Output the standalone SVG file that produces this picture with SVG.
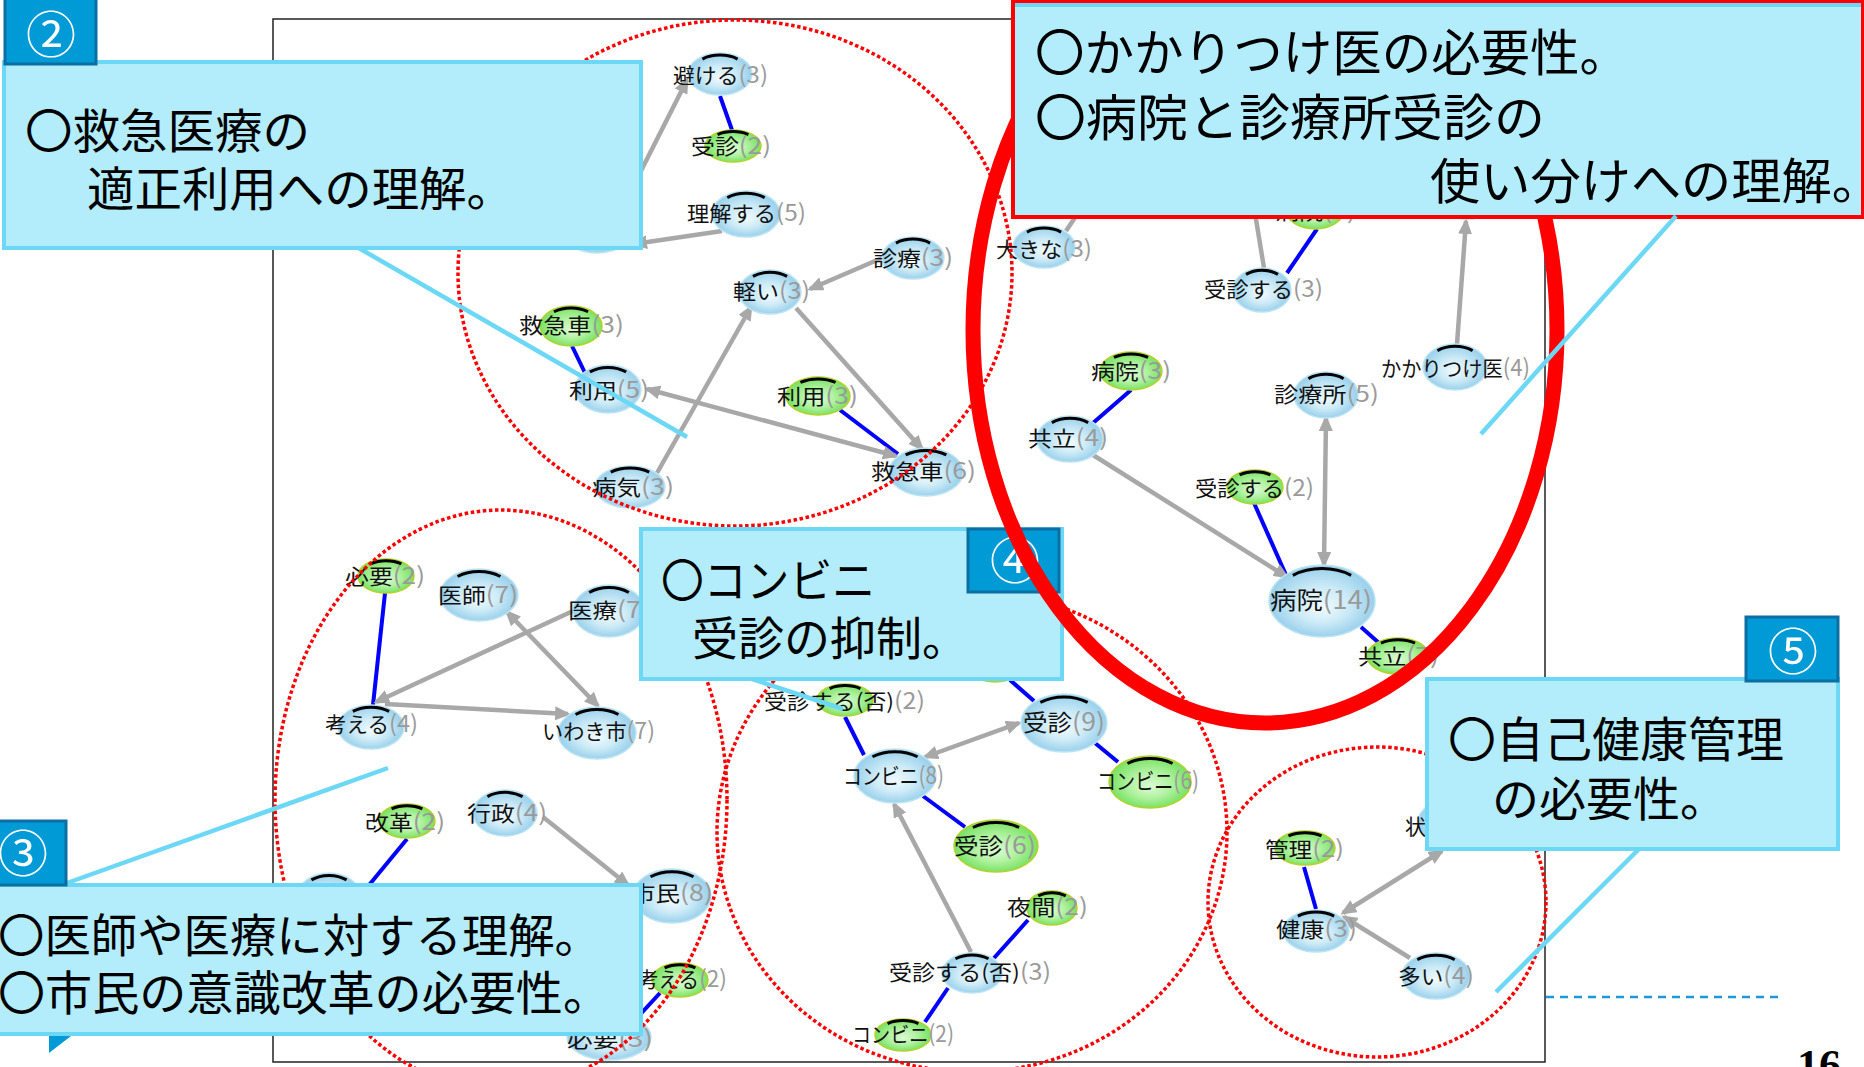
<svg xmlns="http://www.w3.org/2000/svg" xmlns:xlink="http://www.w3.org/1999/xlink" width="1864" height="1067" viewBox="0 0 1864 1067">
<style>
.nb{fill:url(#gb);stroke:#bde4f3;stroke-width:1.5}
.ng{fill:url(#gg);stroke:#b5d22c;stroke-width:1.5}
.lb{font-family:"Noto Sans CJK JP",sans-serif;font-size:21px;fill:#111;text-anchor:middle}
.n{fill:#9a9a9a;font-size:23px}
.be{stroke:#0000ff;stroke-width:4;fill:none}
.ge{stroke:#a8a8a8;stroke-width:4.5;fill:none}
.ar{marker-end:url(#ah)}
.ar2{marker-start:url(#ah);marker-end:url(#ah)}
.cl{stroke:#6dd8f5;stroke-width:4.5;fill:none}
.dc{fill:none;stroke:#ff0000;stroke-width:3.5;stroke-dasharray:3.5 2.6}
.box{fill:#b3ecfa;stroke:#6dd8f5;stroke-width:4}
.badge{fill:#009ad6;stroke:#0b6fa3;stroke-width:3}
.bt{font-family:"Noto Sans CJK JP",sans-serif;fill:#000}
.cn{font-family:"Noto Sans CJK JP",sans-serif;fill:#fff;text-anchor:middle;font-size:50px}
</style>
<defs>
<radialGradient id="gb" cx="0.5" cy="0.5" r="0.55" fx="0.5" fy="0.6">
<stop offset="0" stop-color="#f1fafe"/><stop offset="0.45" stop-color="#cdebf7"/><stop offset="0.85" stop-color="#9fd3ed"/><stop offset="1" stop-color="#8cc8e6"/>
</radialGradient>
<radialGradient id="gg" cx="0.5" cy="0.5" r="0.55" fx="0.5" fy="0.6">
<stop offset="0" stop-color="#dbfbd2"/><stop offset="0.45" stop-color="#b2f2a2"/><stop offset="0.85" stop-color="#7fe46a"/><stop offset="1" stop-color="#6bdc55"/>
</radialGradient>
<path id="cap" d="M-0.55,-0.712 A0.9,0.9 0 0 1 0.55,-0.712" fill="none" stroke="#000" stroke-width="3" vector-effect="non-scaling-stroke"/>
<marker id="ah" viewBox="0 0 16 14" refX="13" refY="7" markerWidth="16" markerHeight="14" markerUnits="userSpaceOnUse" orient="auto-start-reverse">
<path d="M0,0 L16,7 L0,14 z" fill="#a8a8a8"/>
</marker>
</defs>
<rect width="1864" height="1067" fill="#fff"/>
<rect id="frame" x="273" y="19" width="1272" height="1043" fill="none" stroke="#222" stroke-width="1.5"/>

<g id="connectors">
<path class="be" d="M720,96 L732,130"/>
<path class="be" d="M572,346 L585,373"/>
<path class="be" d="M840,410 L898,454"/>
<path class="be" d="M1287,273 L1317,229"/>
<path class="be" d="M1093,423 L1131,390"/>
<path class="be" d="M1254,503 L1286,575"/>
<path class="be" d="M1361,627 L1379,643"/>
<path class="be" d="M845,717 L864,755"/>
<path class="be" d="M1010,680 L1034,701"/>
<path class="be" d="M1095,743 L1118,762"/>
<path class="be" d="M923,796 L965,827"/>
<path class="be" d="M994,958 L1028,920"/>
<path class="be" d="M948,988 L925,1022"/>
<path class="be" d="M385,593 L373,705"/>
<path class="be" d="M407,839 L365,890"/>
<path class="be" d="M660,993 L635,1020"/>
<path class="be" d="M1304,867 L1316,909"/>
<path class="ge ar" d="M610,232 L687,80"/>
<path class="ge ar" d="M722,231 L634,244"/>
<path class="ge ar" d="M882,258 L810,289"/>
<path class="ge ar" d="M657,473 L751,307"/>
<path class="ge ar" d="M796,308 L922,449"/>
<path class="ge ar" d="M1457,344 L1466,221"/>
<path class="ge ar" d="M1093,455 L1287,577"/>
<path class="ge ar" d="M971,952 L894,804"/>
<path class="ge ar" d="M573,611 L376,702"/>
<path class="ge ar" d="M385,704 L568,714"/>
<path class="ge ar" d="M543,817 L628,885"/>
<path class="ge ar" d="M1410,958 L1344,917"/>
<path class="ge ar2" d="M647,389 L896,456"/>
<path class="ge ar2" d="M1326,418 L1324,565"/>
<path class="ge ar2" d="M925,757 L1019,723"/>
<path class="ge ar2" d="M507,612 L598,706"/>
<path class="ge ar2" d="M1343,913 L1442,851"/>
<path class="ge" d="M1066,231 L1090,195"/>
<path class="ge" d="M1264,268 L1252,195"/>
</g>

<g id="nodes">
<g id="n01"><ellipse class="nb" cx="720" cy="74" rx="32" ry="21"/><use href="#cap" transform="translate(720,74) scale(32,21)"/><text class="lb" x="720.5" y="83" textLength="95" lengthAdjust="spacingAndGlyphs">避ける<tspan class="n">(3)</tspan></text></g>
<g id="n02"><ellipse class="ng" cx="733" cy="146" rx="28" ry="16"/><use href="#cap" transform="translate(733,146) scale(28,16)"/><text class="lb" x="731" y="154" textLength="80" lengthAdjust="spacingAndGlyphs">受診<tspan class="n">(2)</tspan></text></g>
<g id="n03"><ellipse class="nb" cx="746" cy="214" rx="34" ry="23"/><use href="#cap" transform="translate(746,214) scale(34,23)"/><text class="lb" x="746.5" y="221" textLength="119" lengthAdjust="spacingAndGlyphs">理解する<tspan class="n">(5)</tspan></text></g>
<g id="n04"><ellipse class="nb" cx="913" cy="258" rx="31" ry="21"/><use href="#cap" transform="translate(913,258) scale(31,21)"/><text class="lb" x="913" y="266" textLength="80" lengthAdjust="spacingAndGlyphs">診療<tspan class="n">(3)</tspan></text></g>
<g id="n05"><ellipse class="nb" cx="770" cy="292" rx="31" ry="22"/><use href="#cap" transform="translate(770,292) scale(31,22)"/><text class="lb" x="771.5" y="299" textLength="77" lengthAdjust="spacingAndGlyphs">軽い<tspan class="n">(3)</tspan></text></g>
<g id="n06"><ellipse class="ng" cx="571" cy="326" rx="31" ry="20"/><use href="#cap" transform="translate(571,326) scale(31,20)"/><text class="lb" x="571.5" y="333" textLength="105" lengthAdjust="spacingAndGlyphs">救急車<tspan class="n">(3)</tspan></text></g>
<g id="n07"><ellipse class="nb" cx="608" cy="389" rx="33" ry="24"/><use href="#cap" transform="translate(608,389) scale(33,24)"/><text class="lb" x="609" y="398" textLength="80" lengthAdjust="spacingAndGlyphs">利用<tspan class="n">(5)</tspan></text></g>
<g id="n08"><ellipse class="ng" cx="818" cy="396" rx="32" ry="19"/><use href="#cap" transform="translate(818,396) scale(32,19)"/><text class="lb" x="817.5" y="404" textLength="81" lengthAdjust="spacingAndGlyphs">利用<tspan class="n">(3)</tspan></text></g>
<g id="n09"><ellipse class="nb" cx="926" cy="472" rx="37" ry="24"/><use href="#cap" transform="translate(926,472) scale(37,24)"/><text class="lb" x="923.5" y="479" textLength="105" lengthAdjust="spacingAndGlyphs">救急車<tspan class="n">(6)</tspan></text></g>
<g id="n10"><ellipse class="nb" cx="630" cy="487" rx="35" ry="21"/><use href="#cap" transform="translate(630,487) scale(35,21)"/><text class="lb" x="633" y="495" textLength="82" lengthAdjust="spacingAndGlyphs">病気<tspan class="n">(3)</tspan></text></g>
<g id="n11"><ellipse class="nb" cx="597" cy="229" rx="36" ry="24"/></g>
<g id="n12"><ellipse class="nb" cx="1044" cy="247" rx="31" ry="21"/><use href="#cap" transform="translate(1044,247) scale(31,21)"/><text class="lb" x="1044" y="257" textLength="96" lengthAdjust="spacingAndGlyphs">大きな<tspan class="n">(3)</tspan></text></g>
<g id="n13"><ellipse class="nb" cx="1262" cy="290" rx="29" ry="22"/><use href="#cap" transform="translate(1262,290) scale(29,22)"/><text class="lb" x="1263.5" y="297" textLength="119" lengthAdjust="spacingAndGlyphs">受診する<tspan class="n">(3)</tspan></text></g>
<g id="n14"><ellipse class="ng" cx="1315" cy="210" rx="29" ry="19"/><text class="lb" x="1315.5" y="219" textLength="81" lengthAdjust="spacingAndGlyphs">病院<tspan class="n">(2)</tspan></text></g>
<g id="n15"><ellipse class="nb" cx="1467" cy="198" rx="30" ry="21"/></g>
<g id="n16"><ellipse class="ng" cx="1131" cy="371" rx="31" ry="19"/><use href="#cap" transform="translate(1131,371) scale(31,19)"/><text class="lb" x="1131" y="379" textLength="80" lengthAdjust="spacingAndGlyphs">病院<tspan class="n">(3)</tspan></text></g>
<g id="n17"><ellipse class="nb" cx="1070" cy="439" rx="33" ry="23"/><use href="#cap" transform="translate(1070,439) scale(33,23)"/><text class="lb" x="1068" y="446" textLength="80" lengthAdjust="spacingAndGlyphs">共立<tspan class="n">(4)</tspan></text></g>
<g id="n18"><ellipse class="nb" cx="1326" cy="395" rx="32" ry="23"/><use href="#cap" transform="translate(1326,395) scale(32,23)"/><text class="lb" x="1326.5" y="402" textLength="105" lengthAdjust="spacingAndGlyphs">診療所<tspan class="n">(5)</tspan></text></g>
<g id="n19"><ellipse class="nb" cx="1455" cy="367" rx="32" ry="23"/><use href="#cap" transform="translate(1455,367) scale(32,23)"/><text class="lb" x="1455.5" y="376" textLength="149" lengthAdjust="spacingAndGlyphs">かかりつけ医<tspan class="n">(4)</tspan></text></g>
<g id="n20"><ellipse class="ng" cx="1255" cy="487" rx="28" ry="17"/><use href="#cap" transform="translate(1255,487) scale(28,17)"/><text class="lb" x="1254.5" y="496" textLength="119" lengthAdjust="spacingAndGlyphs">受診する<tspan class="n">(2)</tspan></text></g>
<g id="n21"><ellipse class="nb" cx="1322" cy="601" rx="53" ry="36"/><use href="#cap" transform="translate(1322,601) scale(53,36)"/><text class="lb" x="1321" y="609" textLength="102" lengthAdjust="spacingAndGlyphs" style="font-size:24px">病院<tspan class="n" style="font-size:25px">(14)</tspan></text></g>
<g id="n22"><ellipse class="ng" cx="1398" cy="656" rx="31" ry="18"/><use href="#cap" transform="translate(1398,656) scale(31,18)"/><text class="lb" x="1398.5" y="664" textLength="81" lengthAdjust="spacingAndGlyphs">共立<tspan class="n">(7)</tspan></text></g>
<g id="n23"><ellipse class="ng" cx="845" cy="700" rx="28" ry="16"/><use href="#cap" transform="translate(845,700) scale(28,16)"/><text class="lb" x="844.5" y="709" textLength="161" lengthAdjust="spacingAndGlyphs">受診する(否)<tspan class="n">(2)</tspan></text></g>
<g id="n24"><ellipse class="ng" cx="995" cy="663" rx="30" ry="19"/></g>
<g id="n25"><ellipse class="nb" cx="895" cy="776" rx="41" ry="27"/><use href="#cap" transform="translate(895,776) scale(41,27)"/><text class="lb" x="893.5" y="784" textLength="101" lengthAdjust="spacingAndGlyphs" style="font-size:22px">コンビニ<tspan class="n" style="font-size:24px">(8)</tspan></text></g>
<g id="n26"><ellipse class="nb" cx="1064" cy="723" rx="43" ry="29"/><use href="#cap" transform="translate(1064,723) scale(43,29)"/><text class="lb" x="1064" y="731" textLength="82" lengthAdjust="spacingAndGlyphs" style="font-size:23px">受診<tspan class="n" style="font-size:25px">(9)</tspan></text></g>
<g id="n27"><ellipse class="ng" cx="1150" cy="782" rx="41" ry="26"/><use href="#cap" transform="translate(1150,782) scale(41,26)"/><text class="lb" x="1148" y="789" textLength="102" lengthAdjust="spacingAndGlyphs" style="font-size:22px">コンビニ<tspan class="n" style="font-size:24px">(6)</tspan></text></g>
<g id="n28"><ellipse class="ng" cx="996" cy="846" rx="42" ry="26"/><use href="#cap" transform="translate(996,846) scale(42,26)"/><text class="lb" x="995" y="854" textLength="82" lengthAdjust="spacingAndGlyphs" style="font-size:22px">受診<tspan class="n" style="font-size:24px">(6)</tspan></text></g>
<g id="n29"><ellipse class="ng" cx="1052" cy="908" rx="25" ry="17"/><use href="#cap" transform="translate(1052,908) scale(25,17)"/><text class="lb" x="1047.5" y="915" textLength="81" lengthAdjust="spacingAndGlyphs">夜間<tspan class="n">(2)</tspan></text></g>
<g id="n30"><ellipse class="nb" cx="972" cy="973" rx="30" ry="20"/><use href="#cap" transform="translate(972,973) scale(30,20)"/><text class="lb" x="970" y="980" textLength="162" lengthAdjust="spacingAndGlyphs">受診する(否)<tspan class="n">(3)</tspan></text></g>
<g id="n31"><ellipse class="ng" cx="903" cy="1035" rx="28" ry="16"/><use href="#cap" transform="translate(903,1035) scale(28,16)"/><text class="lb" x="903" y="1042" textLength="102" lengthAdjust="spacingAndGlyphs">コンビニ<tspan class="n">(2)</tspan></text></g>
<g id="n32"><ellipse class="ng" cx="386" cy="576" rx="28" ry="17"/><use href="#cap" transform="translate(386,576) scale(28,17)"/><text class="lb" x="385" y="584" textLength="80" lengthAdjust="spacingAndGlyphs">必要<tspan class="n">(2)</tspan></text></g>
<g id="n33"><ellipse class="nb" cx="479" cy="595" rx="39" ry="26"/><use href="#cap" transform="translate(479,595) scale(39,26)"/><text class="lb" x="478" y="603" textLength="80" lengthAdjust="spacingAndGlyphs">医師<tspan class="n">(7)</tspan></text></g>
<g id="n34"><ellipse class="nb" cx="609" cy="611" rx="36" ry="26"/><use href="#cap" transform="translate(609,611) scale(36,26)"/><text class="lb" x="609" y="618" textLength="82" lengthAdjust="spacingAndGlyphs">医療<tspan class="n">(7)</tspan></text></g>
<g id="n35"><ellipse class="nb" cx="371" cy="727" rx="33" ry="22"/><use href="#cap" transform="translate(371,727) scale(33,22)"/><text class="lb" x="371.5" y="732" textLength="93" lengthAdjust="spacingAndGlyphs">考える<tspan class="n">(4)</tspan></text></g>
<g id="n36"><ellipse class="nb" cx="597" cy="733" rx="39" ry="26"/><use href="#cap" transform="translate(597,733) scale(39,26)"/><text class="lb" x="598.5" y="739" textLength="113" lengthAdjust="spacingAndGlyphs">いわき市<tspan class="n">(7)</tspan></text></g>
<g id="n37"><ellipse class="ng" cx="407" cy="821" rx="28" ry="17"/><use href="#cap" transform="translate(407,821) scale(28,17)"/><text class="lb" x="405" y="830" textLength="80" lengthAdjust="spacingAndGlyphs">改革<tspan class="n">(2)</tspan></text></g>
<g id="n38"><ellipse class="nb" cx="505" cy="813" rx="32" ry="23"/><use href="#cap" transform="translate(505,813) scale(32,23)"/><text class="lb" x="507" y="821" textLength="80" lengthAdjust="spacingAndGlyphs">行政<tspan class="n">(4)</tspan></text></g>
<g id="n39"><ellipse class="nb" cx="672" cy="896" rx="39" ry="27"/><use href="#cap" transform="translate(672,896) scale(39,27)"/><text class="lb" x="672" y="901" textLength="82" lengthAdjust="spacingAndGlyphs">市民<tspan class="n">(8)</tspan></text></g>
<g id="n40"><ellipse class="nb" cx="329" cy="897" rx="32" ry="24"/><use href="#cap" transform="translate(329,897) scale(32,24)"/></g>
<g id="n41"><ellipse class="ng" cx="680" cy="980" rx="28" ry="17"/><use href="#cap" transform="translate(680,980) scale(28,17)"/><text class="lb" x="682.5" y="987" textLength="89" lengthAdjust="spacingAndGlyphs">考える<tspan class="n">(2)</tspan></text></g>
<g id="n42"><ellipse class="nb" cx="609" cy="1037" rx="42" ry="23"/><text class="lb" x="610" y="1047" textLength="86" lengthAdjust="spacingAndGlyphs">必要<tspan class="n">(3)</tspan></text></g>
<g id="n43"><ellipse class="ng" cx="1305" cy="848" rx="30" ry="17"/><use href="#cap" transform="translate(1305,848) scale(30,17)"/><text class="lb" x="1304.5" y="857" textLength="79" lengthAdjust="spacingAndGlyphs">管理<tspan class="n">(2)</tspan></text></g>
<g id="n44"><ellipse class="nb" cx="1316" cy="931" rx="33" ry="21"/><use href="#cap" transform="translate(1316,931) scale(33,21)"/><text class="lb" x="1316.5" y="937" textLength="81" lengthAdjust="spacingAndGlyphs">健康<tspan class="n">(3)</tspan></text></g>
<g id="n45"><ellipse class="nb" cx="1436" cy="976" rx="34" ry="23"/><use href="#cap" transform="translate(1436,976) scale(34,23)"/><text class="lb" x="1436" y="984" textLength="76" lengthAdjust="spacingAndGlyphs">多い<tspan class="n">(4)</tspan></text></g>
<g id="n46"><ellipse class="nb" cx="1450" cy="822" rx="32" ry="22"/><text class="lb" x="1405" y="834" style="text-anchor:start">状</text></g>
</g>

<g id="clusters">
<ellipse class="dc" cx="735" cy="273" rx="277" ry="253"/>
<ellipse class="dc" cx="501" cy="800" rx="226" ry="290"/>
<ellipse class="dc" cx="972" cy="832" rx="255" ry="240"/>
<ellipse class="dc" cx="1377" cy="902" rx="169" ry="155"/>
</g>

<g id="callout-lines">
<path class="cl" d="M357,247 L687,437"/>
<path class="cl" d="M67,883 L388,768"/>
<path class="cl" d="M740,675 L843,709"/>
<path class="cl" d="M1640,848 L1496,992"/>
</g>

<g id="box2">
<rect class="box" x="4" y="62" width="637" height="186"/>
<rect class="badge" x="5" y="-5" width="91" height="69"/>
<text class="cn" x="51" y="53">②</text>
<text class="bt" x="25" y="148" font-size="47" textLength="285" lengthAdjust="spacingAndGlyphs">〇救急医療の</text>
<text class="bt" x="87" y="206" font-size="47" textLength="427" lengthAdjust="spacingAndGlyphs">適正利用への理解。</text>
</g>

<g id="box3">
<rect class="box" x="-5" y="885" width="646" height="149"/>
<rect class="badge" x="-5" y="821" width="71" height="64"/>
<text class="cn" x="23" y="872">③</text>
<path d="M49,1036 L71,1036 L49,1053 z" fill="#009ad6"/>
<text class="bt" x="-2" y="952" font-size="46" textLength="603" lengthAdjust="spacingAndGlyphs">〇医師や医療に対する理解。</text>
<text class="bt" x="-2" y="1010" font-size="47" textLength="612" lengthAdjust="spacingAndGlyphs">〇市民の意識改革の必要性。</text>
</g>

<g id="box5">
<rect class="box" x="1427" y="679" width="411" height="170"/>
<rect class="badge" x="1746" y="617" width="92" height="64"/>
<text class="cn" x="1793" y="670">⑤</text>
<text class="bt" x="1448" y="757" font-size="48" textLength="336" lengthAdjust="spacingAndGlyphs">〇自己健康管理</text>
<text class="bt" x="1492" y="816" font-size="47" textLength="235" lengthAdjust="spacingAndGlyphs">の必要性。</text>
</g>

<g id="box4">
<rect class="box" x="641" y="529" width="421" height="150"/>
<rect class="badge" x="968" y="529" width="91" height="63"/>
<text class="cn" x="1015" y="579">④</text>
<text class="bt" x="661" y="597" font-size="46" textLength="214" lengthAdjust="spacingAndGlyphs">〇コンビニ</text>
<text class="bt" x="692" y="655" font-size="46" textLength="276" lengthAdjust="spacingAndGlyphs">受診の抑制。</text>
</g>

<ellipse id="red-ring" cx="1265" cy="330" rx="292" ry="393" fill="none" stroke="#ff0000" stroke-width="15"/>

<g id="box1">
<rect x="1013" y="1" width="850" height="216" fill="#b3ecfa" stroke="#ff0000" stroke-width="4"/>
<rect x="1015" y="3" width="846" height="4" fill="#6dd8f5"/>
<text class="bt" x="1035" y="71" font-size="50" textLength="594" lengthAdjust="spacingAndGlyphs">〇かかりつけ医の必要性。</text>
<text class="bt" x="1035" y="136" font-size="50" textLength="510" lengthAdjust="spacingAndGlyphs">〇病院と診療所受診の</text>
<text class="bt" x="1430" y="199" font-size="49" textLength="452" lengthAdjust="spacingAndGlyphs">使い分けへの理解。</text>
</g>

<path class="cl" d="M1676,216 L1481,434"/>
<path d="M1546,997 L1778,997" stroke="#1a9ad6" stroke-width="2.5" stroke-dasharray="8 6" fill="none"/>
<text x="1797" y="1080" font-family="Liberation Serif, serif" font-weight="bold" font-size="44" fill="#000">16</text>
</svg>
